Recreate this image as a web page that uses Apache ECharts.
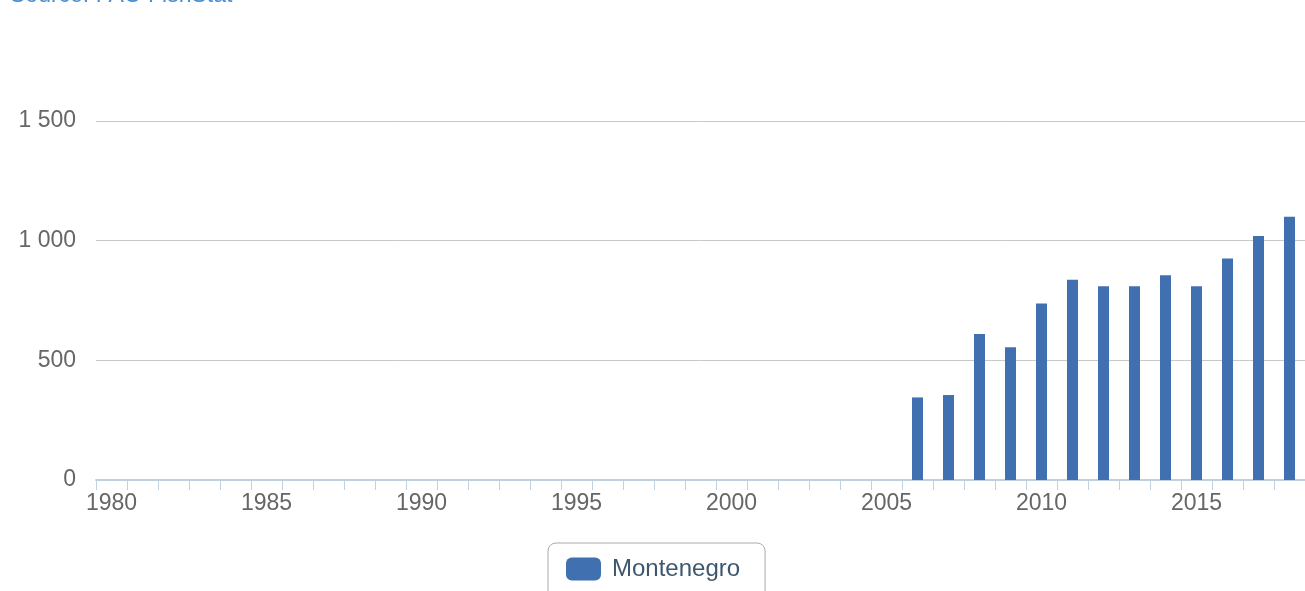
<!DOCTYPE html>
<html>
<head>
<meta charset="utf-8">
<style>
  html, body { margin: 0; padding: 0; background: #fff; }
  #chart { width: 1305px; height: 591px; }
</style>
<script src="https://cdn.jsdelivr.net/npm/echarts@6/dist/echarts.min.js"></script>
</head>
<body>
<div id="chart"></div>
<script>
// Years 1980..2018
const years = [];
for (let y = 1980; y <= 2018; y++) years.push(String(y));

// Montenegro values (null before 2006)
const montenegro = [
    null, null, null, null, null, null, null, null, null, null,
    null, null, null, null, null, null, null, null, null, null,
    null, null, null, null, null, null,
    345, 355, 610, 555, 737, 837, 810, 810, 855, 810, 926, 1020, 1100
];

const yTicks = [0, 500, 1000, 1500];

const chart = echarts.init(document.getElementById('chart'));

const fmt = v => String(v).replace(/\B(?=(\d{3})+(?!\d))/g, ' ');
const FONT = '"Liberation Sans", Arial, sans-serif';

chart.setOption({
    backgroundColor: '#fff',
    animation: false,
    graphic: [{
        type: 'text',
        left: 10,
        top: -16,
        style: {
            text: 'Source: FAO FishStat',
            fill: '#4d8fd0',
            font: '23px ' + FONT
        }
    }],
    grid: { left: 96, right: 0, top: 121, bottom: 111 },
    legend: {
        data: ['Montenegro'],
        top: 543,
        left: 548,
        itemWidth: 35,
        itemHeight: 23,
        padding: [14, 25, 20, 18],
        borderColor: '#aaa',
        borderWidth: 1,
        borderRadius: 8,
        icon: 'roundRect',
        textStyle: {
            color: '#3e576f',
            fontSize: 24,
            fontFamily: FONT,
            padding: [0, 0, 0, 6]
        }
    },
    xAxis: {
        type: 'category',
        data: years,
        boundaryGap: true,
        axisLine: { lineStyle: { color: '#c0d0e0', width: 2 } },
        axisTick: { show: true, length: 10, interval: 0, lineStyle: { color: '#c0d0e0', width: 1 } },
        axisLabel: {
            interval: 4,
            color: '#666',
            fontSize: 23,
            margin: 12,
            fontFamily: FONT
        },
        splitLine: { show: false }
    },
    yAxis: {
        type: 'value',
        min: 0,
        max: 1500,
        interval: 500,
        axisLine: { show: false },
        axisTick: { show: false },
        axisLabel: {
            color: '#666',
            fontSize: 23,
            margin: 20,
            fontFamily: FONT,
            formatter: fmt,
            padding: [10, 0, 0, 0]
        },
        splitLine: { lineStyle: { color: '#c8c8c8', width: 1 } }
    },
    series: [{
        name: 'Montenegro',
        type: 'bar',
        data: montenegro,
        barWidth: 11,
        itemStyle: { color: '#4070b0' }
    }]
});
</script>
</body>
</html>
